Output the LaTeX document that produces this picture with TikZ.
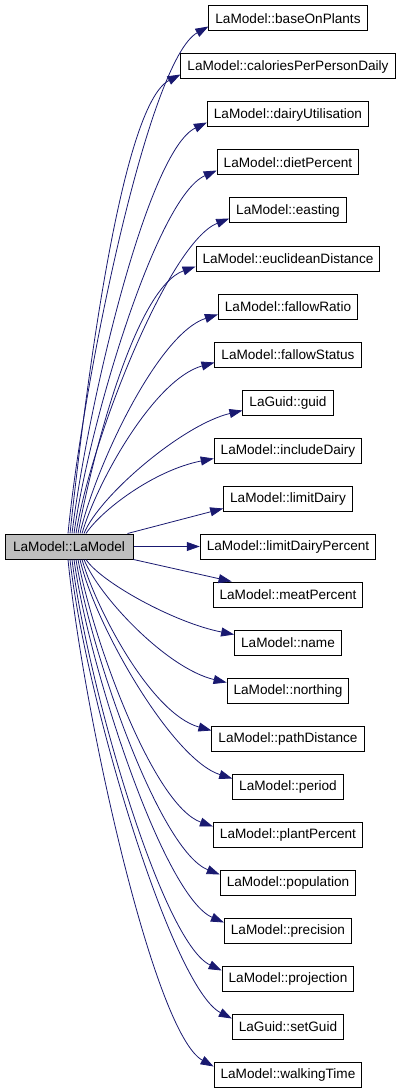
\documentclass[tikz,border=0pt]{standalone}
\definecolor{edgeblue}{RGB}{25,25,112}
\definecolor{callergray}{RGB}{191,191,191}
\usepackage{fontspec}
\setmainfont{Liberation Sans}
\usepackage{tikz}
\usetikzlibrary{arrows.meta,positioning,calc}

\begin{document}
\begin{tikzpicture}[x=1pt,y=-1pt,
    fn/.style={draw=black, line width=1pt, fill=white, inner xsep=6.5pt, inner ysep=0pt,
      minimum height=25pt, font=\fontsize{13.6}{16}\selectfont},
    call/.style={draw=edgeblue, line width=0.8pt, -{Triangle[length=13pt,width=9pt]}}]
  \useasboundingbox (0,0) rectangle (400,1091);

  \node[fn, fill=callergray, minimum width=128pt] (src) at (69,546.5) {LaModel::LaModel};

  \foreach \lbl [count=\i from 0] in {LaModel::baseOnPlants, LaModel::caloriesPerPersonDaily,
      LaModel::dairyUtilisation, LaModel::dietPercent, LaModel::easting,
      LaModel::euclideanDistance, LaModel::fallowRatio, LaModel::fallowStatus,
      LaGuid::guid, LaModel::includeDairy, LaModel::limitDairy, LaModel::limitDairyPercent,
      LaModel::meatPercent, LaModel::name, LaModel::northing, LaModel::pathDistance,
      LaModel::period, LaModel::plantPercent, LaModel::population, LaModel::precision,
      LaModel::projection, LaGuid::setGuid, LaModel::walkingTime}
    \node[fn] (t\i) at (288,18.5+48*\i) {\lbl};

  % calls going up
  \foreach \i in {0,...,9}{
    \pgfmathsetmacro\dx{2*\i-1}
    \pgfmathsetmacro\h{508.5-48*\i}
    \draw[call] ([xshift=\dx pt]src.north) .. controls +(15,-0.3*\h) and +(-60,0.05*\h+8) .. ([yshift=5pt]t\i.south west);
  }
  % the three next to the caller
  \draw[call] ([xshift=-6pt]src.north east) -- ([yshift=3pt]t10.south west);
  \draw[call] (src.east) -- (t11.west);
  \draw[call] (src.south east) -- ([xshift=19pt]t12.north west);
  % calls going down
  \foreach \i in {13,...,22}{
    \pgfmathsetmacro\dx{43-2*\i}
    \pgfmathsetmacro\h{48*\i-548.5}
    \draw[call] ([xshift=\dx pt]src.south) .. controls +(15,0.3*\h) and +(-60,-0.05*\h-8) .. ([yshift=-5pt]t\i.north west);
  }
\end{tikzpicture}
\end{document}
